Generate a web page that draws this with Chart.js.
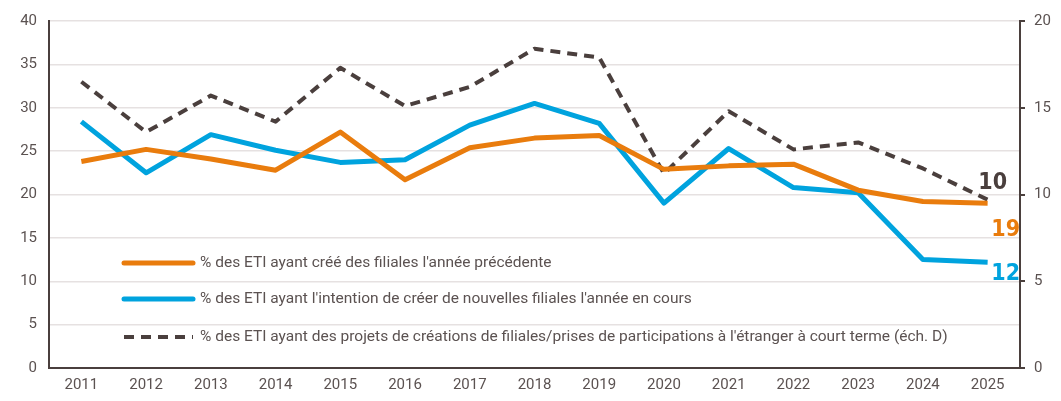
<!DOCTYPE html>
<html>
<head>
<meta charset="utf-8">
<script src="https://cdn.jsdelivr.net/npm/chart.js@4/dist/chart.umd.min.js"></script>
<style>
  html, body { margin: 0; padding: 0; background: #fff; }
  #wrap { width: 1061px; height: 401px; }
</style>
</head>
<body>
<div id="wrap"><canvas id="chart" width="1061" height="401"></canvas></div>
<script>
// données
const years = ['2011','2012','2013','2014','2015','2016','2017','2018','2019','2020','2021','2022','2023','2024','2025'];
const creeFiliales = [23.8, 25.2, 24.1, 22.8, 27.2, 21.7, 25.4, 26.5, 26.8, 22.9, 23.3, 23.5, 20.5, 19.2, 19.0];
const intentionFiliales = [28.4, 22.5, 26.9, 25.1, 23.7, 24.0, 28.0, 30.5, 28.2, 19.0, 25.3, 20.8, 20.2, 12.5, 12.2];
const projetsEtranger = [16.5, 13.6, 15.7, 14.2, 17.3, 15.1, 16.2, 18.4, 17.9, 11.2, 14.8, 12.6, 13.0, 11.5, 9.7];
const seriesLabels = [
    "% des ETI ayant créé des filiales l'année précédente",
    "% des ETI ayant l'intention de créer de nouvelles filiales l'année en cours",
    "% des ETI ayant des projets de créations de filiales/prises de participations à l'étranger à court terme (éch. D)"
];
const endLabels = ['19', '12', '10'];

const ORANGE = '#e97c0d';
const BLUE = '#00a3de';
const DARK = '#4a3f3d';
const TXT = '#5b5251';
const FONT = 'Roboto, "Liberation Sans", sans-serif';

// légende dessinée dans la zone du graphique
const insideLegend = {
    id: 'insideLegend',
    afterDraw(chart) {
        const ctx = chart.ctx;
        const x0 = 124, x1 = 193;
        const rows = [263, 299, 337];
        ctx.save();
        chart.data.datasets.forEach((ds, i) => {
            const y = rows[i];
            ctx.beginPath();
            ctx.strokeStyle = ds.borderColor;
            ctx.lineWidth = ds.borderDash ? 4 : 5;
            ctx.lineCap = ds.borderDash ? 'butt' : 'round';
            ctx.setLineDash(ds.borderDash || []);
            ctx.moveTo(x0, y);
            ctx.lineTo(x1, y);
            ctx.stroke();
            ctx.setLineDash([]);
            ctx.fillStyle = TXT;
            ctx.font = '15.5px ' + FONT;
            ctx.textBaseline = 'middle';
            ctx.textAlign = 'left';
            ctx.fillText(ds.label, 200, y);
        });
        ctx.restore();
    }
};

// valeurs en fin de courbe
const endValues = {
    id: 'endValues',
    afterDatasetsDraw(chart) {
        const ctx = chart.ctx;
        const offsets = [[18, 27], [18, 12], [5, -17]];
        ctx.save();
        ctx.font = 'bold 23px "DejaVu Sans Condensed", ' + FONT;
        ctx.textAlign = 'center';
        ctx.textBaseline = 'middle';
        chart.data.datasets.forEach((ds, i) => {
            const meta = chart.getDatasetMeta(i);
            const pt = meta.data[meta.data.length - 1];
            ctx.fillStyle = ds.borderColor;
            ctx.fillText(endLabels[i], pt.x + offsets[i][0], pt.y + offsets[i][1]);
        });
        ctx.restore();
    }
};

new Chart(document.getElementById('chart'), {
    type: 'line',
    data: {
        labels: years,
        datasets: [
            {
                label: seriesLabels[0],
                data: creeFiliales,
                borderColor: ORANGE,
                borderWidth: 5,
                yAxisID: 'y'
            },
            {
                label: seriesLabels[1],
                data: intentionFiliales,
                borderColor: BLUE,
                borderWidth: 5,
                yAxisID: 'y'
            },
            {
                label: seriesLabels[2],
                data: projetsEtranger,
                borderColor: DARK,
                borderWidth: 4,
                borderDash: [10, 7],
                yAxisID: 'y2'
            }
        ]
    },
    options: {
        responsive: false,
        animation: false,
        layout: { padding: { top: 19, bottom: 0, left: 0, right: 0 } },
        plugins: {
            legend: { display: false },
            tooltip: { enabled: false }
        },
        elements: {
            point: { radius: 0 },
            line: { tension: 0, borderCapStyle: 'butt', borderJoinStyle: 'round' }
        },
        scales: {
            x: {
                offset: true,
                grid: { display: false, drawTicks: false },
                border: { display: true, color: DARK, width: 2 },
                ticks: { color: TXT, font: { size: 15, family: FONT }, padding: 8 },
                afterFit(axis) { axis.height = 33; }
            },
            y: {
                position: 'left',
                min: 0, max: 40,
                ticks: { stepSize: 5, color: TXT, font: { size: 15, family: FONT }, padding: 12 },
                grid: { color: '#e6e1e1', lineWidth: 1.5, drawTicks: false },
                border: { display: true, color: DARK, width: 2 },
                afterFit(axis) { axis.width = 49; }
            },
            y2: {
                position: 'right',
                min: 0, max: 20,
                ticks: { stepSize: 5, color: TXT, font: { size: 15, family: FONT }, padding: 9 },
                grid: { drawOnChartArea: false, drawTicks: true, tickLength: 5, color: DARK, lineWidth: 2 },
                border: { display: true, color: DARK, width: 2 },
                afterFit(axis) { axis.width = 41; }
            }
        }
    },
    plugins: [insideLegend, endValues]
});
</script>
</body>
</html>
